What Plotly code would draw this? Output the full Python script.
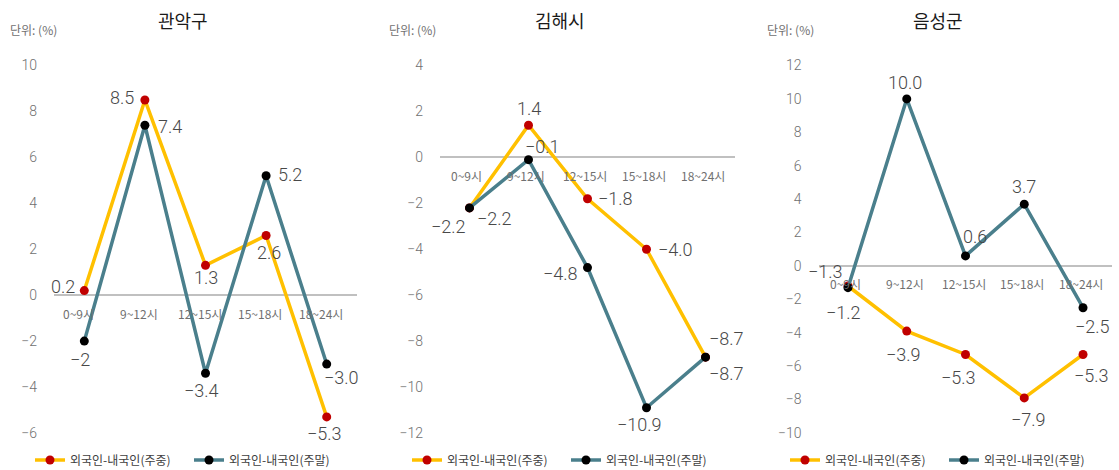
import plotly.graph_objects as go

# --- data -------------------------------------------------------------
regions = ["관악구", "김해시", "음성군"]
hours = ["0~9시", "9~12시", "12~15시", "15~18시", "18~24시"]

gwanak_weekday = [0.2, 8.5, 1.3, 2.6, -5.3]
gwanak_weekend = [-2, 7.4, -3.4, 5.2, -3.0]
gimhae_weekday = [-2.2, 1.4, -1.8, -4.0, -8.7]
gimhae_weekend = [-2.2, -0.1, -4.8, -10.9, -8.7]
eumseong_weekday = [-1.2, -3.9, -5.3, -7.9, -5.3]
eumseong_weekend = [-1.3, 10.0, 0.6, 3.7, -2.5]

weekday_name = "외국인-내국인(주중)"
weekend_name = "외국인-내국인(주말)"

y_ranges = [(-6, 10), (-12, 4), (-10, 12)]

# --- styling ----------------------------------------------------------
W, H = 1119, 470
FONT = "Roboto, 'Noto Sans CJK KR', sans-serif"
KFONT = "'Noto Sans CJK KR', sans-serif"
YELLOW, RED = "#FFC000", "#C00000"
TEAL, BLACK = "#4A7F8C", "#000000"

# plot areas in pixels (left, right); shared top/bottom
x_px = [(54, 357), (440, 735), (818.6, 1112.4)]
top_px, bot_px = 65.5, 433
title_x = [183, 560, 938]
unit_x = [8, 387, 765]
legend_x = [30, 407, 785]
cat_shift = [-6, -3, -2]

# value-label offsets from each marker, in pixels (dx, dy; dy up)
weekday_off = [
    [(-21, 4), (-23, 2), (0, -12), (3, -17), (-2, -17)],
    [(-21, -19), (0, 17), (28, 0), (29, 0), (21, 19)],
    [(-4, -26), (-3, -23), (-7, -23), (4, -22), (8, -21)],
]
weekend_off = [
    [(-4, -18), (25, -1), (-4, -17), (24, 1), (15, -13)],
    [(25, -11), (14, 13), (-27, -6), (-7, -17), (21, -16)],
    [(-22, 16), (-2, 16), (9, 19), (0, 18), (9, -19)],
]


def fmt(v):
    return str(v).replace("-", "\u2212")


series = [
    (gwanak_weekday, gwanak_weekend),
    (gimhae_weekday, gimhae_weekend),
    (eumseong_weekday, eumseong_weekend),
]

fig = go.Figure()
annotations = []
layout = {}


def value_labels(values, offsets, xa, ya):
    for h, v, (dx, dy) in zip(hours, values, offsets):
        annotations.append(dict(
            x=h, y=v, xref=xa, yref=ya, text=fmt(v), showarrow=False,
            xanchor="center", yanchor="middle", xshift=dx, yshift=dy,
            font=dict(family=FONT, size=18, color="#484848", weight=300),
        ))


for i, (wd, we) in enumerate(series):
    n = "" if i == 0 else str(i + 1)
    xa, ya = "x" + n, "y" + n
    lg = "legend" + n

    fig.add_trace(go.Scatter(
        x=hours, y=wd, name=weekday_name, mode="lines+markers",
        line=dict(color=YELLOW, width=3.5),
        marker=dict(color=RED, size=9),
        cliponaxis=False, xaxis=xa, yaxis=ya, legend=lg,
    ))
    fig.add_trace(go.Scatter(
        x=hours, y=we, name=weekend_name, mode="lines+markers",
        line=dict(color=TEAL, width=3.5),
        marker=dict(color=BLACK, size=9),
        cliponaxis=False, xaxis=xa, yaxis=ya, legend=lg,
    ))
    value_labels(wd, weekday_off[i], xa, ya)
    value_labels(we, weekend_off[i], xa, ya)

    x0, x1 = x_px[i]
    layout["xaxis" + n] = dict(
        domain=[x0 / W, x1 / W], anchor=ya, range=[-0.5, 4.5],
        showticklabels=False, showgrid=False, zeroline=False,
        showline=False, ticks="",
    )
    lo, hi = y_ranges[i]
    layout["yaxis" + n] = dict(
        domain=[1 - bot_px / H, 1 - top_px / H], anchor=xa,
        range=[lo - 0.001, hi + 0.001], dtick=2, tick0=0,
        showgrid=False, showline=False, ticks="",
        zeroline=True, zerolinecolor="#C0C0C0", zerolinewidth=2,
        tickfont=dict(family=FONT, size=14, color="#707070", weight=300),
        ticklabelstandoff=16,
    )
    layout[lg] = dict(
        orientation="h", x=legend_x[i] / W, xanchor="left",
        y=1 - 460 / H, yanchor="middle",
        font=dict(family=KFONT, size=12, color="#404040"),
        entrywidth=114, entrywidthmode="pixels",
        bgcolor="rgba(0,0,0,0)",
    )

    # category labels sitting just under the zero line
    for h in hours:
        annotations.append(dict(
            x=h, y=0, xref=xa, yref=ya, text=h, showarrow=False,
            yanchor="middle", yshift=-18, xshift=cat_shift[i],
            font=dict(family=KFONT, size=12, color="#707070"),
        ))

    annotations.append(dict(
        x=title_x[i] / W, y=1 - 20 / H, xref="paper", yref="paper",
        text=regions[i], showarrow=False, xanchor="center", yanchor="middle",
        font=dict(family=KFONT, size=18, color="#1a1a1a"),
    ))
    annotations.append(dict(
        x=unit_x[i] / W, y=1 - 30 / H, xref="paper", yref="paper",
        text="단위: (%)", showarrow=False, xanchor="left", yanchor="middle",
        font=dict(family=KFONT, size=12, color="#707070"),
    ))

fig.update_layout(
    width=W, height=H,
    margin=dict(l=0, r=0, t=0, b=0, autoexpand=False),
    paper_bgcolor="white", plot_bgcolor="white",
    annotations=annotations,
    **layout,
)

fig.write_html("out.html")
